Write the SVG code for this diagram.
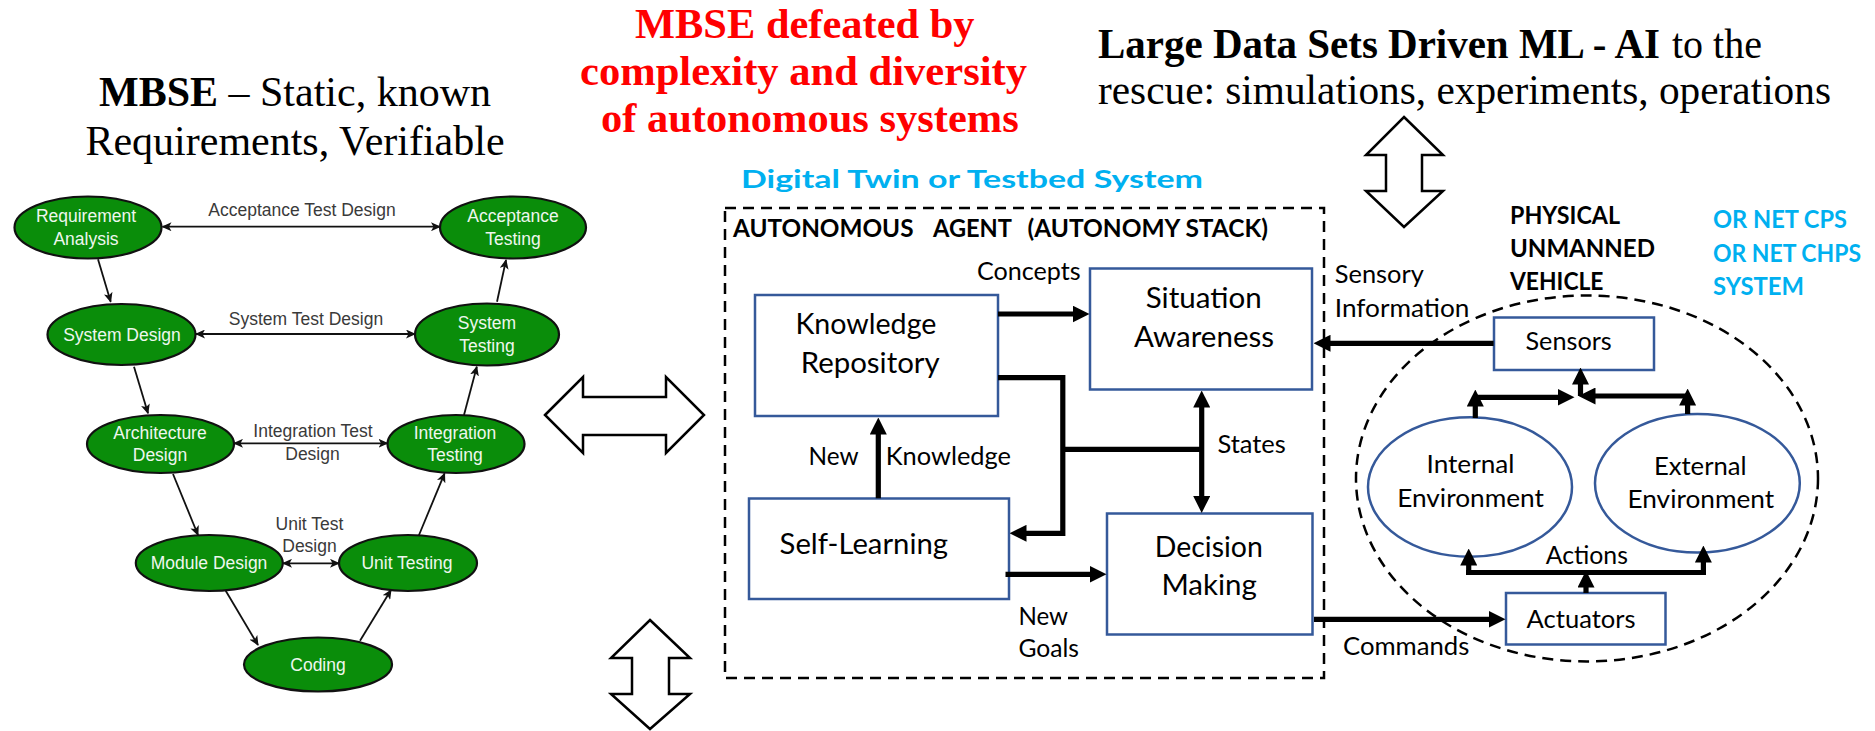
<svg xmlns="http://www.w3.org/2000/svg" width="1875" height="731" viewBox="0 0 1875 731">
<style>
.ell{fill:#0a8d0a;stroke:#111;stroke-width:2.2}
.etx{font-family:"Liberation Sans",Arial,sans-serif;font-size:17.5px;fill:#eef7ee;text-anchor:middle}
.lbl{font-family:"Liberation Sans",Arial,sans-serif;font-size:17.5px;fill:#3a3a3a;text-anchor:middle}
.thin{fill:none;stroke:#111;stroke-width:1.8}
.box{fill:#fff;stroke:#35599a;stroke-width:2.5}
.env{fill:#fff;stroke:#35599a;stroke-width:2.5}
.btx{font-family:Lato,"Liberation Sans",sans-serif;font-size:28.5px;fill:#000}
.ltx{font-family:Lato,"Liberation Sans",sans-serif;font-size:25.5px;fill:#000}
.hdr{font-family:Lato,"Liberation Sans",sans-serif;font-size:25.5px;font-weight:bold;fill:#000}
.cyan{fill:#00b0f0}
.thick{fill:none;stroke:#000;stroke-width:5.2;stroke-linejoin:miter}
.dash{fill:none;stroke:#000;stroke-width:2.5;stroke-dasharray:11 7}
.blk{fill:#fff;stroke:#000;stroke-width:2.5;stroke-linejoin:miter}
.serif{font-family:"Liberation Serif","Times New Roman",serif;font-size:42px;fill:#000}
.red{font-family:"Liberation Serif","Times New Roman",serif;font-size:42.5px;font-weight:bold;fill:#ff0000}
</style>
<defs>
<marker id="ah" viewBox="0 0 17 17" markerWidth="17" markerHeight="17" refX="0.5" refY="8.5" orient="auto-start-reverse" markerUnits="userSpaceOnUse"><path d="M0,0 L17,8.5 L0,17 z" fill="#000"/></marker>
<marker id="ta" viewBox="0 0 10 9" markerWidth="10" markerHeight="9" refX="9" refY="4.5" orient="auto-start-reverse" markerUnits="userSpaceOnUse"><path d="M0,0 L10,4.5 L0,9 L2.5,4.5 z" fill="#111"/></marker>
</defs>
<rect width="1875" height="731" fill="#fff"/>

<!-- titles -->
<g id="titles">
<text class="serif" x="295" y="106" text-anchor="middle"><tspan font-weight="bold">MBSE</tspan> – Static, known</text>
<text class="serif" x="295" y="155" text-anchor="middle">Requirements, Verifiable</text>
<text class="red" x="635" y="38" textLength="339.5" lengthAdjust="spacingAndGlyphs">MBSE defeated by</text>
<text class="red" x="580" y="85" textLength="447" lengthAdjust="spacingAndGlyphs">complexity and diversity</text>
<text class="red" x="601" y="132" textLength="417.7" lengthAdjust="spacingAndGlyphs">of autonomous systems</text>
<text class="serif" x="1098" y="58" font-weight="bold" textLength="562" lengthAdjust="spacingAndGlyphs">Large Data Sets Driven ML - AI</text>
<text class="serif" x="1672" y="58" textLength="90" lengthAdjust="spacingAndGlyphs">to the</text>
<text class="serif" x="1098" y="104" textLength="733" lengthAdjust="spacingAndGlyphs">rescue: simulations, experiments, operations</text>
<text class="hdr cyan" x="741" y="188" font-size="31" textLength="462" lengthAdjust="spacingAndGlyphs">Digital Twin or Testbed System</text>
</g>

<!-- block arrows -->
<g id="block-arrows">
<polygon class="blk" points="545,415 583,377 583,397 666,397 666,377 704,415 666,453 666,435 583,435 583,453"/>
<polygon class="blk" points="650,620 690,658 669,658 669,694 690,694 650,729 611,694 632,694 632,658 611,658"/>
<polygon class="blk" points="1404,117 1443,155 1422,155 1422,191 1443,191 1404,227 1366,191 1386,191 1386,155 1366,155"/>
</g>

<!-- V model -->
<g id="v-model">
<g id="req-analysis"><ellipse class="ell" cx="88" cy="227.5" rx="73.5" ry="31"/><text class="etx" x="86" y="221.5">Requirement</text><text class="etx" x="86" y="244.5">Analysis</text></g>
<g id="acceptance-testing"><ellipse class="ell" cx="513" cy="227.5" rx="73" ry="31"/><text class="etx" x="513" y="221.5">Acceptance</text><text class="etx" x="513" y="244.5">Testing</text></g>
<g id="system-design"><ellipse class="ell" cx="121.5" cy="334.5" rx="74" ry="30.5"/><text class="etx" x="122" y="340.5">System Design</text></g>
<g id="system-testing"><ellipse class="ell" cx="487" cy="334.5" rx="72" ry="31"/><text class="etx" x="487" y="329">System</text><text class="etx" x="487" y="351.5">Testing</text></g>
<g id="architecture-design"><ellipse class="ell" cx="160.5" cy="444" rx="73.5" ry="29"/><text class="etx" x="160" y="438.5">Architecture</text><text class="etx" x="160" y="461">Design</text></g>
<g id="integration-testing"><ellipse class="ell" cx="456" cy="444" rx="68.5" ry="29"/><text class="etx" x="455" y="438.5">Integration</text><text class="etx" x="455" y="461">Testing</text></g>
<g id="module-design"><ellipse class="ell" cx="209.3" cy="563" rx="73.5" ry="28"/><text class="etx" x="209" y="569">Module Design</text></g>
<g id="unit-testing"><ellipse class="ell" cx="408" cy="563" rx="69" ry="28"/><text class="etx" x="407" y="569">Unit Testing</text></g>
<g id="coding"><ellipse class="ell" cx="318" cy="664.5" rx="74" ry="27"/><text class="etx" x="318" y="670.5">Coding</text></g>
<g id="v-labels">
<text class="lbl" x="302" y="216">Acceptance Test Design</text>
<text class="lbl" x="306" y="325">System Test Design</text>
<text class="lbl" x="313" y="437">Integration Test</text>
<text class="lbl" x="312.5" y="459.5">Design</text>
<text class="lbl" x="309.5" y="530">Unit Test</text>
<text class="lbl" x="309.5" y="552">Design</text>
</g>
</g>

<!-- autonomy stack -->
<g id="autonomous-agent">
<rect class="dash" x="725" y="208" width="599" height="470"/>
<text class="hdr" x="733" y="237" textLength="180.5" lengthAdjust="spacingAndGlyphs">AUTONOMOUS</text>
<text class="hdr" x="933" y="237" textLength="79" lengthAdjust="spacingAndGlyphs">AGENT</text>
<text class="hdr" x="1027.5" y="237" textLength="240.5" lengthAdjust="spacingAndGlyphs">(AUTONOMY STACK)</text>
</g>
<g id="knowledge-repository"><rect class="box" x="755" y="295" width="243" height="121"/>
<text class="btx" x="795.4" y="334" textLength="141" lengthAdjust="spacingAndGlyphs">Knowledge</text>
<text class="btx" x="800.7" y="373" textLength="139" lengthAdjust="spacingAndGlyphs">Repository</text></g>
<g id="situation-awareness"><rect class="box" x="1090" y="268.5" width="222" height="121"/>
<text class="btx" x="1145.7" y="308.3" textLength="116" lengthAdjust="spacingAndGlyphs">Situation</text>
<text class="btx" x="1134" y="346.7" textLength="140" lengthAdjust="spacingAndGlyphs">Awareness</text></g>
<g id="self-learning"><rect class="box" x="749" y="498.5" width="260" height="100.5"/>
<text class="btx" x="779.6" y="554" textLength="168.4" lengthAdjust="spacingAndGlyphs">Self-Learning</text></g>
<g id="decision-making"><rect class="box" x="1107" y="513.5" width="205.5" height="121"/>
<text class="btx" x="1154.8" y="557.3" textLength="108" lengthAdjust="spacingAndGlyphs">Decision</text>
<text class="btx" x="1161.4" y="595" textLength="95.4" lengthAdjust="spacingAndGlyphs">Making</text></g>

<!-- physical vehicle -->
<g id="physical-vehicle">
<ellipse class="dash" cx="1587" cy="478.5" rx="231" ry="183"/>
<text class="hdr" x="1510" y="224" textLength="110" lengthAdjust="spacingAndGlyphs">PHYSICAL</text>
<text class="hdr" x="1510" y="257" textLength="145" lengthAdjust="spacingAndGlyphs">UNMANNED</text>
<text class="hdr" x="1510" y="290" textLength="93.5" lengthAdjust="spacingAndGlyphs">VEHICLE</text>
</g>
<g id="net-cps">
<text class="hdr cyan" x="1713" y="228.3" textLength="134" lengthAdjust="spacingAndGlyphs">OR NET CPS</text>
<text class="hdr cyan" x="1713" y="261.7" textLength="148" lengthAdjust="spacingAndGlyphs">OR NET CHPS</text>
<text class="hdr cyan" x="1713" y="295" textLength="91" lengthAdjust="spacingAndGlyphs">SYSTEM</text>
</g>
<g id="sensors"><rect class="box" x="1494" y="317.5" width="160" height="52.5"/>
<text class="ltx" x="1525.5" y="350" textLength="86.2" lengthAdjust="spacingAndGlyphs">Sensors</text></g>
<g id="internal-environment"><ellipse class="env" cx="1470" cy="487" rx="102" ry="69.7"/>
<text class="ltx" x="1426.5" y="473.3" textLength="88" lengthAdjust="spacingAndGlyphs">Internal</text>
<text class="ltx" x="1397.2" y="506.7" textLength="146.7" lengthAdjust="spacingAndGlyphs">Environment</text></g>
<g id="external-environment"><ellipse class="env" cx="1697.4" cy="483.3" rx="102.4" ry="69.3"/>
<text class="ltx" x="1653.9" y="475" textLength="92.7" lengthAdjust="spacingAndGlyphs">External</text>
<text class="ltx" x="1627.5" y="508.3" textLength="146.6" lengthAdjust="spacingAndGlyphs">Environment</text></g>
<g id="actuators"><rect class="box" x="1506" y="593" width="159.5" height="51.5"/>
<text class="ltx" x="1526.6" y="628.3" textLength="109" lengthAdjust="spacingAndGlyphs">Actuators</text></g>

<!-- connectors -->
<g id="connectors">
<g id="v-connectors" marker-end="url(#ta)">
<path class="thin" d="M98,259.3 L110.7,301.7"/>
<path class="thin" d="M134,366.7 L148,413.3"/>
<path class="thin" d="M173,474 L198,535"/>
<path class="thin" d="M225.7,590.7 L258,645"/>
<path class="thin" d="M360,640.7 L391,590"/>
<path class="thin" d="M418.6,536 L444.6,473.3"/>
<path class="thin" d="M464,415 L476.8,366.7"/>
<path class="thin" d="M497,301.7 L506,260"/>
</g>
<g id="v-test-design" marker-start="url(#ta)" marker-end="url(#ta)">
<path class="thin" d="M162.5,226.7 H440"/>
<path class="thin" d="M196,334 H415"/>
<path class="thin" d="M234,443.3 H387.5"/>
<path class="thin" d="M283,563.3 H339"/>
</g>
<g id="agent-connectors">
<path class="thick" d="M998,314 H1073" marker-end="url(#ah)"/>
<path class="thick" d="M998,377.7 H1062.8 V533.3 H1026" marker-end="url(#ah)"/>
<path class="thick" d="M1062.8,449.3 H1201.7"/>
<path class="thick" d="M1201.7,407 V496.5" marker-start="url(#ah)" marker-end="url(#ah)"/>
<path class="thick" d="M878.3,498.3 V434" marker-end="url(#ah)"/>
<path class="thick" d="M1005.5,574.3 H1090" marker-end="url(#ah)"/>
<path class="thick" d="M1493.6,343.3 H1330" marker-end="url(#ah)"/>
<path class="thick" d="M1314,619.3 H1489" marker-end="url(#ah)"/>
</g>
<g id="vehicle-connectors">
<path class="thick" d="M1586,593 V587" marker-end="url(#ah)"/>
<path class="thick" d="M1466,572.5 H1706"/>
<path class="thick" d="M1468.7,575 V565" marker-end="url(#ah)"/>
<path class="thick" d="M1703.4,575 V562" marker-end="url(#ah)"/>
<path class="thick" d="M1475.3,418 V406" marker-end="url(#ah)"/>
<path class="thick" d="M1475.3,397.3 H1558" marker-end="url(#ah)"/>
<path class="thick" d="M1687.6,414 V405" marker-end="url(#ah)"/>
<path class="thick" d="M1687.6,396 H1595" marker-end="url(#ah)"/>
<path class="thick" d="M1580.5,396 V384" marker-end="url(#ah)"/>
</g>
<g id="connector-labels">
<text class="ltx" x="977" y="280" textLength="103.6" lengthAdjust="spacingAndGlyphs">Concepts</text>
<text class="ltx" x="1217.4" y="453.3" textLength="68.4" lengthAdjust="spacingAndGlyphs">States</text>
<text class="ltx" x="808.6" y="465" textLength="50" lengthAdjust="spacingAndGlyphs">New</text>
<text class="ltx" x="885.7" y="465" textLength="125.3" lengthAdjust="spacingAndGlyphs">Knowledge</text>
<text class="ltx" x="1018.4" y="625" textLength="49.6" lengthAdjust="spacingAndGlyphs">New</text>
<text class="ltx" x="1018.4" y="656.7" textLength="60.6" lengthAdjust="spacingAndGlyphs">Goals</text>
<text class="ltx" x="1343" y="655" textLength="126.4" lengthAdjust="spacingAndGlyphs">Commands</text>
<text class="ltx" x="1334.8" y="283.3" textLength="89" lengthAdjust="spacingAndGlyphs">Sensory</text>
<text class="ltx" x="1334.8" y="316.7" textLength="134.6" lengthAdjust="spacingAndGlyphs">Information</text>
<text class="ltx" x="1545.7" y="564" textLength="82.3" lengthAdjust="spacingAndGlyphs">Actions</text>
</g>
</g>
</svg>
